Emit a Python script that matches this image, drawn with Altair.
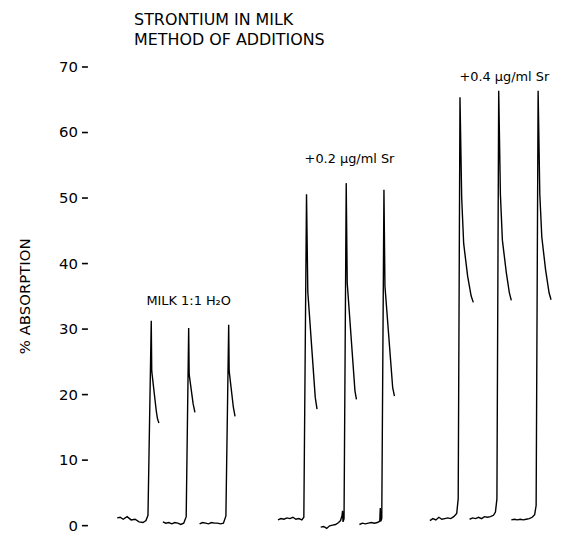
import altair as alt
import pandas as pd

# ---- data (time in arbitrary chart-speed units, % absorption) ----
p1_t = [30, 33, 36, 40, 44, 48, 52, 56, 59, 61, 64.3, 64.8, 69.3, 70.5, 72]
p1_v = [1.1, 1.2, 0.9, 1.3, 0.8, 0.9, 0.5, 0.4, 0.7, 1.5, 31.2, 23.5, 17.5, 16.3, 15.6]

p2_t = [76, 79, 82, 85, 88, 91, 94, 97, 99.5, 102, 102.5, 106.5, 108.3]
p2_v = [0.5, 0.3, 0.4, 0.2, 0.4, 0.3, 0.1, 0.3, 1.3, 30.1, 23, 18.5, 17.2]

p3_t = [113, 116, 119, 122, 125, 128, 131, 134, 137, 139.5, 142.3, 142.8, 147, 148.7]
p3_v = [0.2, 0.4, 0.3, 0.2, 0.4, 0.3, 0.3, 0.2, 0.3, 1.4, 30.6, 23.5, 18, 16.6]

p4_t = [192, 195, 198, 201, 204, 207, 210, 213, 216, 218, 220.7, 222, 229.5, 231.3]
p4_v = [0.8, 1.0, 0.9, 1.1, 1.0, 1.2, 0.9, 1.0, 0.8, 1.2, 50.5, 35.6, 19.5, 17.7]

p5_t = [235, 238, 241, 244, 247, 250, 253, 255, 256.5, 257, 257.5, 258.5, 260.7, 261.7, 269.5, 271]
p5_v = [-0.3, -0.2, -0.5, -0.1, 0.0, 0.1, 0.4, 0.7, 1.5, 2.2, 0.5, 1.0, 52.2, 37, 20.5, 19.2]

p6_t = [274, 277, 280, 283, 286, 289, 292, 294.5, 295, 295.5, 296.5, 298.7, 299.7, 307.5, 309.3]
p6_v = [0.1, 0.3, 0.2, 0.3, 0.4, 0.3, 0.4, 0.6, 2.6, 0.6, 1.0, 51.2, 36.5, 21, 19.7]

p7_t = [345, 348, 351, 354, 357, 360, 363, 366, 369, 372, 373.5, 375.3, 377, 379, 383, 386.5, 388.7]
p7_v = [0.7, 1.0, 0.8, 1.2, 0.9, 1.0, 1.1, 1.0, 1.3, 1.8, 4, 65.3, 50, 43, 38, 35, 34]

p8_t = [385, 388, 391, 394, 397, 400, 403, 406, 409, 411, 412.5, 414.3, 416, 418, 422, 425, 427]
p8_v = [0.9, 1.1, 1.0, 1.2, 1.0, 1.3, 1.2, 1.3, 1.5, 2.0, 4, 66.3, 50.5, 43.5, 38.5, 35.5, 34.3]

p9_t = [427, 430, 433, 436, 439, 442, 445, 448, 450.5, 452, 454, 455.7, 457.7, 461.5, 465, 467]
p9_v = [0.8, 0.9, 0.8, 0.9, 0.8, 0.9, 1.0, 1.2, 1.6, 3, 66.3, 50.5, 44, 39, 35.5, 34.4]

peaks_t = [p1_t, p2_t, p3_t, p4_t, p5_t, p6_t, p7_t, p8_t, p9_t]
peaks_v = [p1_v, p2_v, p3_v, p4_v, p5_v, p6_v, p7_v, p8_v, p9_v]

ann_text = ["MILK 1:1 H\u2082O", "+0.2 \u00b5g/ml Sr", "+0.4 \u00b5g/ml Sr"]
ann_t = [102, 264, 420]
ann_v = [33.6, 55.3, 67.8]

y_ticks = [0, 10, 20, 30, 40, 50, 60, 70]

rows = []
for i, (ts, vs) in enumerate(zip(peaks_t, peaks_v)):
    for j, (t, v) in enumerate(zip(ts, vs)):
        rows.append({"peak": i, "idx": j, "t": t, "v": v})
trace = pd.DataFrame(rows)
ann = pd.DataFrame({"text": ann_text, "t": ann_t, "v": ann_v})

FONT = "DejaVu Sans"

xs = alt.Scale(domain=[0, 470])
ys = alt.Scale(domain=[0, 70])

lines = alt.Chart(trace).mark_line(color="black", strokeWidth=1.4).encode(
    x=alt.X("t:Q", scale=xs, axis=None),
    y=alt.Y(
        "v:Q",
        scale=ys,
        axis=alt.Axis(
            values=y_ticks,
            title="% ABSORPTION",
            titleFont=FONT,
            titleFontSize=15,
            titleFontWeight="normal",
            titleColor="black",
            titlePadding=26,
            labelFont=FONT,
            labelFontSize=15,
            labelColor="black",
            labelPadding=4,
            tickColor="black",
            tickWidth=1.6,
            tickSize=6,
            domain=False,
            grid=False,
        ),
    ),
    detail="peak:N",
    order="idx:Q",
)

labels = alt.Chart(ann).mark_text(
    font=FONT, fontSize=13, color="black", align="center", baseline="alphabetic"
).encode(
    x=alt.X("t:Q", scale=xs, axis=None),
    y=alt.Y("v:Q", scale=ys),
    text="text:N",
)

chart = (
    alt.layer(lines, labels)
    .properties(
        width=470,
        height=462,
        autosize="none",
        padding={"left": 80, "top": 57, "right": 0, "bottom": 9},
        title=alt.TitleParams(
            ["STRONTIUM IN MILK", "METHOD OF ADDITIONS"],
            anchor="start",
            frame="group",
            dx=47,
            offset=12,
            font=FONT,
            fontSize=16,
            fontWeight="normal",
            lineHeight=20,
            color="black",
        ),
    )
    .configure_view(strokeWidth=0)
)

chart.save("out.html", embed_options={"renderer": "svg", "actions": False})
